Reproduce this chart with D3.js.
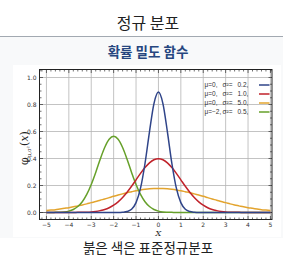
<!DOCTYPE html>
<html>
<head>
<meta charset="utf-8">
<script src="https://cdn.jsdelivr.net/npm/d3@7"></script>
<style>
  html, body { margin: 0; padding: 0; background: #fff; }
  svg { display: block; }
</style>
</head>
<body>
<div id="chart"></div>
<script>
// x positions where the curves were read (step 0.2)
var xs = [-5, -4.8, -4.6, -4.4, -4.2, -4, -3.8, -3.6, -3.4, -3.2, -3, -2.8, -2.6, -2.4, -2.2, -2,
  -1.8, -1.6, -1.4, -1.2, -1, -0.8, -0.6, -0.4, -0.2, 0, 0.2, 0.4, 0.6, 0.8, 1, 1.2, 1.4, 1.6, 1.8,
  2, 2.2, 2.4, 2.6, 2.8, 3, 3.2, 3.4, 3.6, 3.8, 4, 4.2, 4.4, 4.6, 4.8, 5];

// mu=0, sigma^2=0.2
var blueY = [0, 0, 0, 0, 0, 0, 0, 0, 0, 0, 0, 0, 0, 0, 0, 0,
  0, 0.002, 0.007, 0.024, 0.073, 0.180, 0.363, 0.598, 0.807, 0.892, 0.807, 0.598, 0.363, 0.180, 0.073, 0.024, 0.007, 0.002, 0,
  0, 0, 0, 0, 0, 0, 0, 0, 0, 0, 0, 0, 0, 0, 0, 0];
// mu=0, sigma^2=1.0
var redY = [0, 0, 0, 0, 0, 0, 0, 0.001, 0.001, 0.002, 0.004, 0.008, 0.014, 0.022, 0.035, 0.054,
  0.079, 0.111, 0.150, 0.194, 0.242, 0.290, 0.333, 0.368, 0.391, 0.399, 0.391, 0.368, 0.333, 0.290, 0.242, 0.194, 0.150, 0.111, 0.079,
  0.054, 0.035, 0.022, 0.014, 0.008, 0.004, 0.002, 0.001, 0.001, 0, 0, 0, 0, 0, 0, 0];
// mu=0, sigma^2=5.0
var orangeY = [0.015, 0.018, 0.021, 0.026, 0.031, 0.036, 0.042, 0.049, 0.056, 0.064, 0.073, 0.081, 0.091, 0.100, 0.110, 0.120,
  0.129, 0.138, 0.147, 0.154, 0.161, 0.167, 0.172, 0.176, 0.178, 0.178, 0.178, 0.176, 0.172, 0.167, 0.161, 0.154, 0.147, 0.138, 0.129,
  0.120, 0.110, 0.100, 0.091, 0.081, 0.073, 0.064, 0.056, 0.049, 0.042, 0.036, 0.031, 0.026, 0.021, 0.018, 0.015];
// mu=-2, sigma^2=0.5
var greenY = [0, 0, 0.001, 0.002, 0.004, 0.010, 0.022, 0.044, 0.080, 0.134, 0.208, 0.297, 0.394, 0.481, 0.542, 0.564,
  0.542, 0.481, 0.394, 0.297, 0.208, 0.134, 0.080, 0.044, 0.022, 0.010, 0.004, 0.002, 0.001, 0, 0, 0, 0, 0, 0,
  0, 0, 0, 0, 0, 0, 0, 0, 0, 0, 0, 0, 0, 0, 0, 0];

var muLabels = ["\u03bc=0,", "\u03bc=0,", "\u03bc=0,", "\u03bc=\u22122,"];
var sigmaLabels = ["0.2,", "1.0,", "5.0,", "0.5,"];
var xTicks = [-5, -4, -3, -2, -1, 0, 1, 2, 3, 4, 5];
var yTicks = [0, 0.2, 0.4, 0.6, 0.8, 1.0];

var colors = ["#2f4489", "#c0222a", "#e3a42e", "#66a02a"];
var series = [blueY, redY, orangeY, greenY];

var width = 292, height = 259;
var svg = d3.select("#chart").append("svg")
    .attr("width", width)
    .attr("height", height);

var kr = "'Noto Sans CJK KR', 'Noto Sans', sans-serif";

// header
svg.append("text")
    .attr("x", 148).attr("y", 29)
    .attr("text-anchor", "middle")
    .style("font-family", kr).style("font-size", "16px")
    .style("fill", "#202122")
    .text("정규 분포");
svg.append("line")
    .attr("x1", 0).attr("x2", 283).attr("y1", 36.5).attr("y2", 36.5)
    .style("stroke", "#a2a9b1");
svg.append("rect")
    .attr("x", 0).attr("y", 37).attr("width", 283).attr("height", 201)
    .style("fill", "#f8f9fa");
svg.append("text")
    .attr("x", 148).attr("y", 56.5)
    .attr("text-anchor", "middle")
    .style("font-family", kr).style("font-size", "13.5px").style("font-weight", "bold")
    .style("fill", "#26467f")
    .text("확률 밀도 함수");
svg.append("rect")
    .attr("x", 13).attr("y", 65).attr("width", 268).attr("height", 172)
    .style("fill", "#fff");

// scales
var x = d3.scaleLinear().domain([-5.31, 5.07]).range([39.5, 272]);
var y = d3.scaleLinear().domain([0, 1]).range([212.5, 77.5]);
var pTop = 69.5, pBottom = 219.5, pLeft = 39.5, pRight = 272;

// grid
svg.append("g").selectAll("line")
    .data(xTicks)
    .enter().append("line")
    .attr("x1", function (d) { return x(d); }).attr("x2", function (d) { return x(d); })
    .attr("y1", pTop).attr("y2", pBottom)
    .style("stroke", "#b4b4b4").style("stroke-width", 0.8);
svg.append("g").selectAll("line")
    .data(yTicks.slice(1))
    .enter().append("line")
    .attr("x1", pLeft).attr("x2", pRight)
    .attr("y1", function (d) { return y(d); }).attr("y2", function (d) { return y(d); })
    .style("stroke", "#b4b4b4").style("stroke-width", 0.8);
svg.append("line")
    .attr("x1", pLeft).attr("x2", pRight)
    .attr("y1", y(0)).attr("y2", y(0))
    .style("stroke", "#444").style("stroke-width", 0.8);

// minor ticks on the frame
var xMinor = d3.range(-26, 26).map(function (i) { return i / 5; });
var yMinor = d3.range(-1, 22).map(function (i) { return i / 20; });
var tk = svg.append("g").style("stroke", "#333").style("stroke-width", 0.7);
xMinor.forEach(function (d) {
    var len = Math.abs(d - Math.round(d)) < 1e-6 ? 3.5 : 2;
    if (x(d) <= pLeft || x(d) >= pRight) return;
    tk.append("line").attr("x1", x(d)).attr("x2", x(d)).attr("y1", pBottom).attr("y2", pBottom - len);
    tk.append("line").attr("x1", x(d)).attr("x2", x(d)).attr("y1", pTop).attr("y2", pTop + len);
});
yMinor.forEach(function (d) {
    var len = Math.abs(d * 5 - Math.round(d * 5)) < 1e-6 ? 3.5 : 2;
    if (y(d) >= pBottom || y(d) <= pTop) return;
    tk.append("line").attr("x1", pLeft).attr("x2", pLeft + len).attr("y1", y(d)).attr("y2", y(d));
    tk.append("line").attr("x1", pRight).attr("x2", pRight - len).attr("y1", y(d)).attr("y2", y(d));
});

// curves
var line = d3.line()
    .x(function (d) { return x(d[0]); })
    .y(function (d) { return y(d[1]); })
    .curve(d3.curveMonotoneX);
var order = [2, 3, 1, 0];
order.forEach(function (i) {
    svg.append("path")
        .datum(xs.map(function (v, j) { return [v, series[i][j]]; }))
        .attr("d", line)
        .style("fill", "none")
        .style("stroke", colors[i])
        .style("stroke-width", 1.5);
});

// frame
svg.append("rect")
    .attr("x", pLeft).attr("y", pTop)
    .attr("width", pRight - pLeft).attr("height", pBottom - pTop)
    .style("fill", "none").style("stroke", "#222").style("stroke-width", 1);

// tick labels
svg.append("g").selectAll("text")
    .data(xTicks)
    .enter().append("text")
    .attr("x", function (d) { return x(d); })
    .attr("y", 226.5)
    .attr("text-anchor", "middle")
    .style("font-family", "'DejaVu Sans', sans-serif").style("font-size", "6px")
    .style("fill", "#333")
    .text(function (d) { return d < 0 ? "\u2212" + Math.abs(d) : d; });
svg.append("g").selectAll("text")
    .data(yTicks)
    .enter().append("text")
    .attr("x", 36.5)
    .attr("y", function (d) { return y(d) + 2; })
    .attr("text-anchor", "end")
    .style("font-family", "'DejaVu Sans', sans-serif").style("font-size", "6px")
    .style("fill", "#333")
    .text(function (d) { return d.toFixed(1); });

// axis titles
svg.append("text")
    .attr("x", x(0)).attr("y", 235.5)
    .attr("text-anchor", "middle")
    .style("font-family", "'DejaVu Serif', serif").style("font-style", "italic").style("font-size", "8px")
    .style("fill", "#222")
    .text("X");
var yl = svg.append("text")
    .attr("transform", "translate(28,148) rotate(-90)")
    .attr("text-anchor", "middle")
    .style("font-family", "'DejaVu Serif', serif").style("font-size", "11px")
    .style("fill", "#222");
yl.append("tspan").text("\u03c6");
yl.append("tspan").attr("dy", 2.5).style("font-size", "5.5px").text("\u03bc,\u03c3\u00b2");
yl.append("tspan").attr("dy", -2.5).text("(");
yl.append("tspan").style("font-style", "italic").text("x");
yl.append("tspan").text(")");

// legend
var lg = svg.append("g")
    .style("font-family", "'Liberation Sans', sans-serif").style("font-size", "6.5px").style("fill", "#333");
muLabels.forEach(function (m, i) {
    var ly = 84.5 + i * 9;
    lg.append("text").attr("x", 204.5).attr("y", ly + 2.4).text(m);
    lg.append("text").attr("x", 222.5).attr("y", ly + 2.4).text("\u03c3\u00b2=");
    lg.append("text").attr("x", 237.5).attr("y", ly + 2.4).text(sigmaLabels[i]);
    lg.append("line").attr("x1", 259).attr("x2", 269.5).attr("y1", ly + 0.5).attr("y2", ly + 0.5)
        .style("stroke", colors[i]).style("stroke-width", 1.5);
});

// caption
svg.append("text")
    .attr("x", 148).attr("y", 252.5)
    .attr("text-anchor", "middle")
    .style("font-family", kr).style("font-size", "13.5px")
    .style("fill", "#202122")
    .text("붉은 색은 표준정규분포");
</script>
</body>
</html>
